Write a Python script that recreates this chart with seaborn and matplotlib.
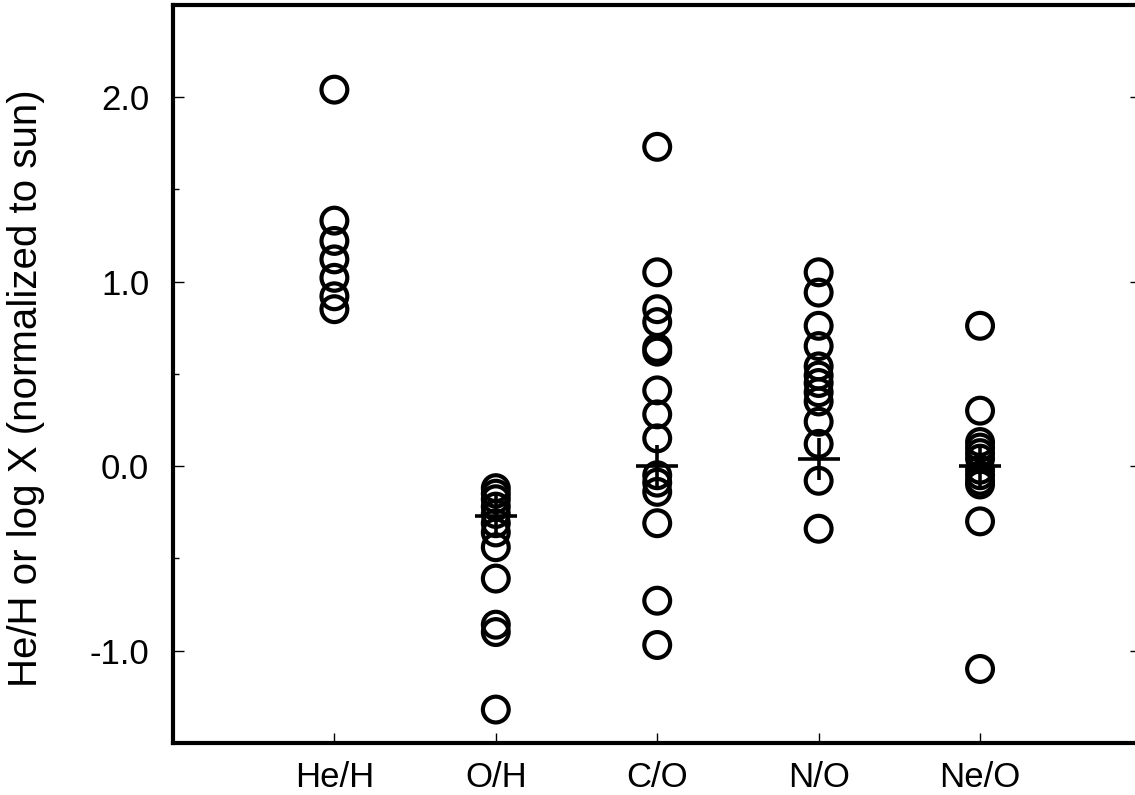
import numpy as np
import pandas as pd
import matplotlib
matplotlib.use("Agg")
import matplotlib.pyplot as plt
from matplotlib.ticker import MultipleLocator, FixedLocator
import seaborn as sns

# ---- data ----
categories = ["He/H", "O/H", "C/O", "N/O", "Ne/O"]
he_h = [2.04, 1.33, 1.22, 1.12, 1.02, 0.92, 0.85]
o_h = [-0.12, -0.15, -0.18, -0.22, -0.26, -0.31, -0.36, -0.44, -0.61, -0.86, -0.90, -1.32]
c_o = [1.73, 1.05, 0.85, 0.78, 0.64, 0.62, 0.41, 0.28, 0.15, -0.05, -0.09, -0.14, -0.31, -0.73, -0.97]
n_o = [1.05, 0.94, 0.76, 0.65, 0.54, 0.49, 0.45, 0.40, 0.35, 0.24, 0.12, -0.08, -0.34]
ne_o = [0.76, 0.30, 0.13, 0.10, 0.07, 0.04, -0.02, -0.05, -0.08, -0.10, -0.30, -1.10]
mean_categories = ["O/H", "C/O", "N/O", "Ne/O"]
mean_values = [-0.27, 0.0, 0.04, 0.0]
y_ticks = [-1.0, 0.0, 1.0, 2.0]
y_tick_labels = ["-1.0", "0.0", "1.0", "2.0"]
y_label = "He/H or log X (normalized to sun)"

series = [he_h, o_h, c_o, n_o, ne_o]
df = pd.DataFrame({
    "ratio": [c for c, s in zip(categories, series) for _ in s],
    "value": [v for s in series for v in s],
})
dm = pd.DataFrame({"ratio": mean_categories, "value": mean_values})

sns.set_theme(style="ticks")
plt.rcParams["font.family"] = ["Liberation Sans", "DejaVu Sans"]
plt.rcParams["axes.unicode_minus"] = False
plt.rcParams["text.color"] = "black"
plt.rcParams["xtick.color"] = "black"
plt.rcParams["ytick.color"] = "black"
plt.rcParams["xtick.labelcolor"] = "black"
plt.rcParams["ytick.labelcolor"] = "black"

fig = plt.figure(figsize=(11.35, 7.95), dpi=100)
ax = fig.add_axes([0.1524, 0.0657, 0.8533, 0.9283])

sns.scatterplot(data=df, x="ratio", y="value", ax=ax, marker="o", s=345,
                facecolor="none", edgecolor="black", linewidth=3.0, legend=False,
                zorder=3)
sns.scatterplot(data=dm, x="ratio", y="value", ax=ax, marker="+", s=900,
                color="black", linewidth=2.6, legend=False, zorder=4)

ax.set_xlim(-1, 5)
ax.set_ylim(-1.5, 2.5)
ax.yaxis.set_major_locator(FixedLocator(y_ticks))
ax.set_yticklabels(y_tick_labels)
ax.yaxis.set_minor_locator(MultipleLocator(0.5))
ax.set_xlabel("")
ax.set_ylabel("")

for sp in ax.spines.values():
    sp.set_linewidth(3.0)
    sp.set_color("black")
    sp.set_visible(True)

ax.tick_params(axis="y", which="major", direction="in", length=8, width=1,
               left=True, right=True, labelsize=25, pad=17, color="black",
               labelcolor="black")
ax.tick_params(axis="y", which="minor", direction="in", length=4, width=1,
               left=True, right=False, color="black")
ax.tick_params(axis="x", which="major", direction="in", length=7, width=1,
               bottom=True, top=False, labelsize=25, pad=13, color="black",
               labelcolor="black")

fig.text(26 / 1135, 1 - 388 / 795, y_label, rotation=90, ha="center",
         va="center", fontsize=29, color="black")

fig.savefig("out.png", dpi=100)
